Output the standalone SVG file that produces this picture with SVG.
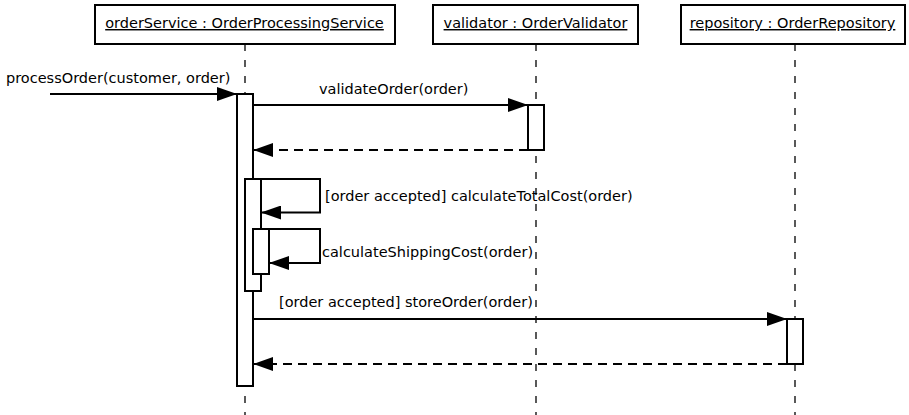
<svg xmlns="http://www.w3.org/2000/svg" width="909" height="415" viewBox="0 0 909 415">
<style>
text{font-family:"DejaVu Sans","Liberation Sans",sans-serif;font-size:14.5px;fill:#000}
.hdr{fill:#fff;stroke:#000;stroke-width:2}
.life{stroke:#000;stroke-width:1.3;stroke-dasharray:7,9;fill:none}
.act{fill:#fff;stroke:#000;stroke-width:2}
.msg{stroke:#000;stroke-width:2;fill:none;marker-end:url(#ah)}
.ret{stroke:#000;stroke-width:2;fill:none;stroke-dasharray:9,6;marker-end:url(#ah)}
.u{text-decoration:underline}
</style>
<defs>
<marker id="ah" markerUnits="userSpaceOnUse" markerWidth="20" markerHeight="14" viewBox="0 0 20 14" refX="20" refY="7" orient="auto">
<path d="M0,0 L20,7 L0,14 z" fill="#000"/>
</marker>
</defs>
<rect width="909" height="415" fill="#fff"/>
<g id="orderService">
<rect class="hdr" x="95" y="5" width="300" height="39"/>
<text class="u" x="244.5" y="28" text-anchor="middle">orderService : OrderProcessingService</text>
<line class="life" x1="245" y1="44" x2="245" y2="415"/>
</g>
<g id="validator">
<rect class="hdr" x="433" y="5" width="205" height="39"/>
<text class="u" x="535.5" y="28" text-anchor="middle">validator : OrderValidator</text>
<line class="life" x1="536" y1="44" x2="536" y2="415"/>
</g>
<g id="repository">
<rect class="hdr" x="681" y="5" width="224" height="39"/>
<text class="u" x="792.5" y="28" text-anchor="middle">repository : OrderRepository</text>
<line class="life" x1="795" y1="44" x2="795" y2="415"/>
</g>
<g id="activations">
<rect class="act" x="237" y="94" width="16" height="292"/>
<rect class="act" x="528" y="105" width="16" height="45"/>
<rect class="act" x="245" y="179" width="16" height="112"/>
<rect class="act" x="253" y="229" width="16" height="45"/>
<rect class="act" x="787" y="319" width="16" height="45"/>
</g>
<g id="connectors">
<line class="msg" x1="50" y1="94" x2="237" y2="94"/>
<text x="6" y="83">processOrder(customer, order)</text>
<line class="msg" x1="253" y1="105" x2="528" y2="105"/>
<text x="319" y="94">validateOrder(order)</text>
<line class="ret" x1="528" y1="150" x2="253" y2="150"/>
<polyline class="msg" points="261,179 320,179 320,212.5 261,212.5"/>
<text x="325" y="201">[order accepted] calculateTotalCost(order)</text>
<polyline class="msg" points="269,229 320,229 320,263 269,263"/>
<text x="322" y="257">calculateShippingCost(order)</text>
<line class="msg" x1="253" y1="319" x2="787" y2="319"/>
<text x="279" y="307">[order accepted] storeOrder(order)</text>
<line class="ret" x1="787" y1="364" x2="253" y2="364"/>
</g>
</svg>
